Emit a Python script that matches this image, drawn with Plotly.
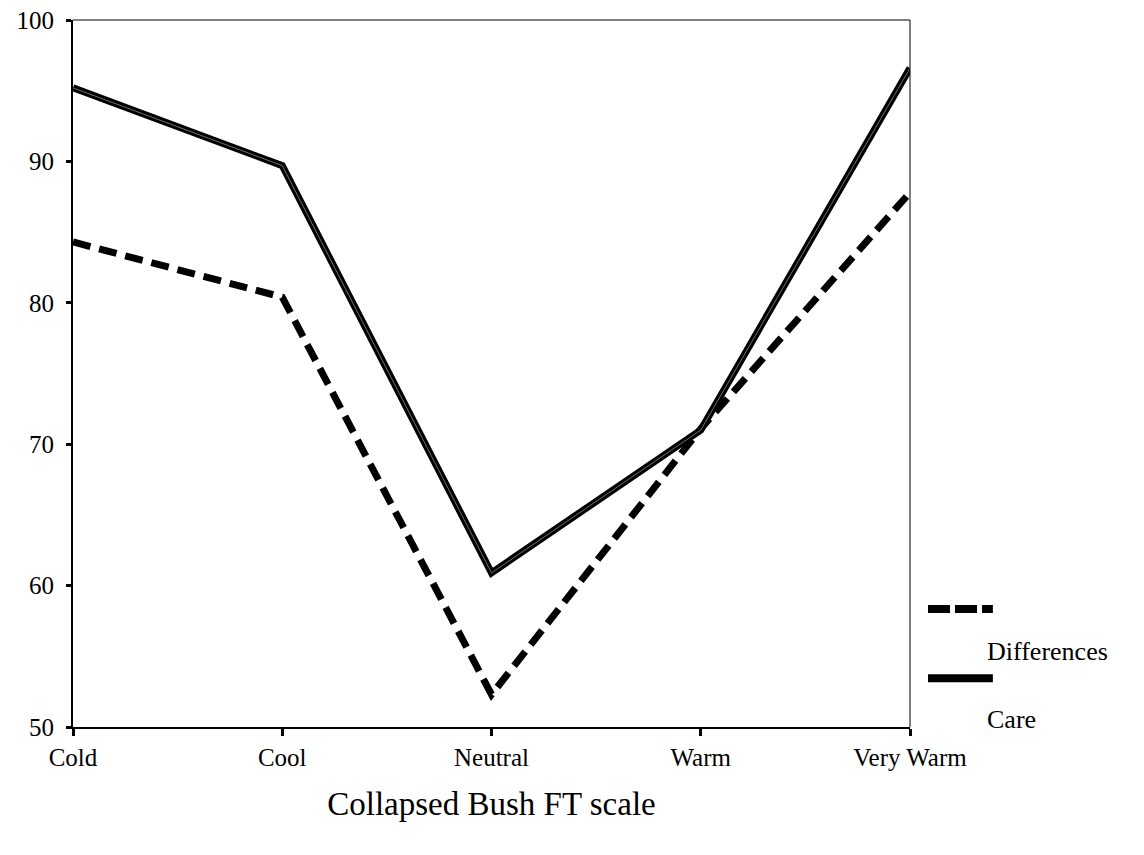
import plotly.graph_objects as go

categories = ["Cold", "Cool", "Neutral", "Warm", "Very Warm"]
differences = [84.3, 80.4, 52.3, 71.1, 87.8]
care = [95.2, 89.7, 60.9, 71.0, 96.6]
y_ticks = [50, 60, 70, 80, 90, 100]

FONT = "Liberation Serif"

fig = go.Figure()
fig.add_trace(go.Scatter(x=categories, y=differences, mode="lines", name="Differences",
                         cliponaxis=False,
                         line=dict(color="black", width=7, dash="18px,9px"), showlegend=False))
fig.add_trace(go.Scatter(x=categories, y=care, mode="lines", name="Care", cliponaxis=False,
                         line=dict(color="black", width=7), showlegend=False))
fig.add_trace(go.Scatter(x=categories, y=care, mode="lines", hoverinfo="skip", cliponaxis=False,
                         line=dict(color="#8a8a8a", width=0.8), showlegend=False))

fig.update_xaxes(type="category", range=[0, 4], showline=True, linecolor="black", linewidth=2,
                 ticks="outside", ticklen=7, tickwidth=3, tickcolor="black", automargin=False,
                 showgrid=False, zeroline=False, ticklabelstandoff=0, ticklabeloverflow="allow",
                 tickfont=dict(family=FONT, size=25, color="black"),
                 title=dict(text="Collapsed Bush FT scale", standoff=22,
                            font=dict(family=FONT, size=33, color="black")))
fig.update_yaxes(range=[50, 100], tickvals=y_ticks, showline=True, linecolor="black", linewidth=2,
                 ticks="outside", ticklen=5, tickwidth=3, tickcolor="black", automargin=False,
                 showgrid=False, zeroline=False, ticklabelstandoff=7, ticklabeloverflow="allow",
                 tickfont=dict(family=FONT, size=25, color="black"))

# thin top/right frame
fig.add_shape(type="line", xref="paper", yref="paper", x0=0, x1=1, y0=1, y1=1,
              line=dict(color="black", width=1))
fig.add_shape(type="line", xref="paper", yref="paper", x0=1, x1=1, y0=0, y1=1,
              line=dict(color="black", width=1))

# manual legend (symbol above label)
fig.add_shape(type="line", xref="paper", yref="paper", x0=1.0215, x1=1.099, y0=0.167, y1=0.167,
              line=dict(color="black", width=8, dash="22px,5px"))
fig.add_shape(type="line", xref="paper", yref="paper", x0=1.0215, x1=1.099, y0=0.069, y1=0.069,
              line=dict(color="black", width=8))
fig.add_annotation(xref="paper", yref="paper", x=1.09, y=0.107, text="Differences",
                   showarrow=False, xanchor="left", yanchor="middle",
                   font=dict(family=FONT, size=26, color="black"))
fig.add_annotation(xref="paper", yref="paper", x=1.09, y=0.011, text="Care",
                   showarrow=False, xanchor="left", yanchor="middle",
                   font=dict(family=FONT, size=26, color="black"))

fig.update_layout(width=1144, height=855, margin=dict(l=65, r=242, t=12, b=136),
                  paper_bgcolor="white", plot_bgcolor="white", showlegend=False)

fig.write_html("out.html")
